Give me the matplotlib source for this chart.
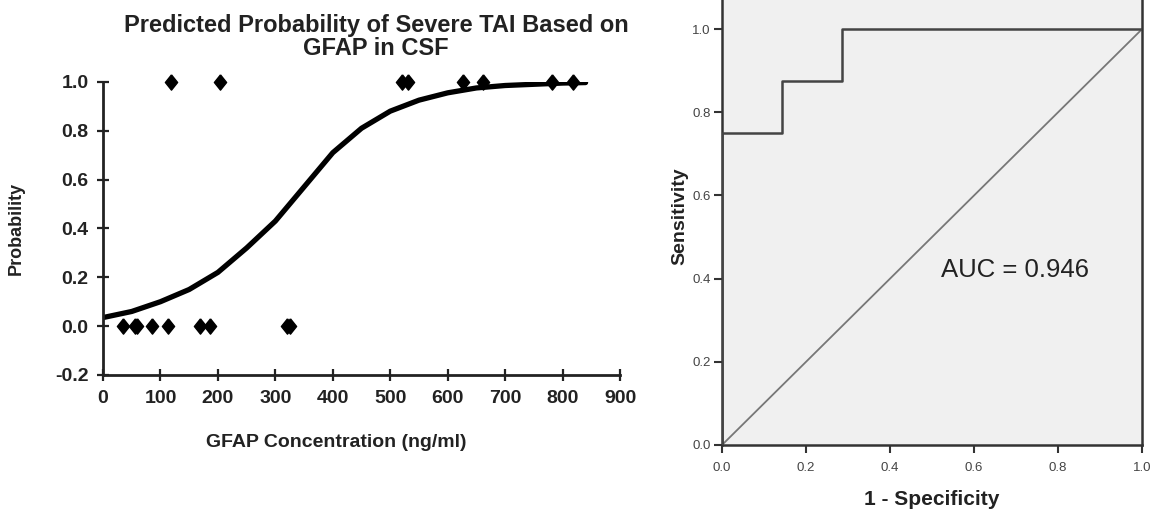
import numpy as np
import matplotlib.pyplot as plt

plt.rcParams["font.family"] = ["Liberation Sans", "DejaVu Sans"]

# ---------------------- data ---------------------- #

# observed cases (GFAP ng/ml), severe TAI = 1, not severe = 0
gfap_pos = [118, 204, 520, 531, 627, 662, 782, 818]
gfap_neg = [34, 55, 60, 85, 113, 169, 186, 320, 326]

# fitted probability curve
curve_x = [0, 50, 100, 150, 200, 250, 300, 350, 400, 450, 500, 550, 600, 650, 700, 750, 800, 840]
curve_p = [0.035, 0.06, 0.10, 0.15, 0.22, 0.32, 0.43, 0.57, 0.71, 0.81, 0.88, 0.925, 0.955, 0.975, 0.985, 0.99, 0.995, 0.997]

# ROC curve
roc_fpr = [0.0, 0.0, 1 / 7, 1 / 7, 2 / 7, 2 / 7, 1.0]
roc_tpr = [0.0, 0.75, 0.75, 0.875, 0.875, 1.0, 1.0]
auc_text = "AUC = 0.946"

x_ticks = [0, 100, 200, 300, 400, 500, 600, 700, 800, 900]
y_ticks = [-0.2, 0.0, 0.2, 0.4, 0.6, 0.8, 1.0]
roc_ticks = [0.0, 0.2, 0.4, 0.6, 0.8, 1.0]

# ---------------------- figure ---------------------- #

fig = plt.figure(figsize=(11.51, 5.17), dpi=100)

# left: logistic fit
ax = fig.add_axes([0.0895, 0.2747, 0.4492, 0.567])
diamond = [(0, 1), (0.8, 0), (0, -1), (-0.8, 0), (0, 1)]
ax.plot(curve_x, curve_p, color="black", lw=3.8, solid_capstyle="round",
        solid_joinstyle="round", zorder=2)
ax.plot(gfap_pos, [1.0] * len(gfap_pos), linestyle="", marker=diamond, ms=11,
        color="black", clip_on=False, zorder=3)
ax.plot(gfap_neg, [0.0] * len(gfap_neg), linestyle="", marker=diamond, ms=11,
        color="black", clip_on=False, zorder=3)

ax.set_xlim(0, 900)
ax.set_ylim(-0.2, 1.0)
ax.set_xticks(x_ticks)
ax.set_yticks(y_ticks)
ax.set_yticklabels([f"{v:.1f}" for v in y_ticks])
for side in ["top", "right"]:
    ax.spines[side].set_visible(False)
for side in ["left", "bottom"]:
    ax.spines[side].set_linewidth(2)
    ax.spines[side].set_color("#222222")
ax.tick_params(direction="inout", length=9, width=1.6, color="#222222",
               labelsize=14, pad=6)
for lbl in ax.get_xticklabels() + ax.get_yticklabels():
    lbl.set_fontweight("bold")
    lbl.set_color("#222222")
fig.text(376 / 1151, 1 - 37 / 517,
         "Predicted Probability of Severe TAI Based on\nGFAP in CSF",
         fontsize=17, fontweight="bold", color="#222222", ha="center", va="center",
         linespacing=1.05)
ax.set_xlabel("GFAP Concentration (ng/ml)", fontsize=14, fontweight="bold",
              color="#222222")
ax.xaxis.set_label_coords((336 - 103) / 517, -(434 - 375) / 293.3, transform=ax.transAxes)
ax.set_ylabel("Probability", fontsize=13, fontweight="bold", color="#222222", labelpad=22)

# right: ROC curve
ax2 = fig.add_axes([0.6273, 0.1393, 0.365, 0.885])
ax2.set_facecolor("#f0f0f0")
ax2.plot([0, 1], [0, 1], color="#777777", lw=1.3, zorder=2)
ax2.plot(roc_fpr, roc_tpr, color="#444444", lw=1.8, zorder=3)
ax2.set_xlim(0, 1)
ax2.set_ylim(0, 1.1)
ax2.set_xticks(roc_ticks)
ax2.set_yticks(roc_ticks)
ax2.set_xticklabels([f"{v:.1f}" for v in roc_ticks])
ax2.set_yticklabels([f"{v:.1f}" for v in roc_ticks])
for side in ["left", "bottom", "right", "top"]:
    ax2.spines[side].set_linewidth(1.8)
    ax2.spines[side].set_color("#333333")
ax2.tick_params(direction="out", length=6, width=1.5, color="#333333",
                labelsize=9.5, labelcolor="#444444", pad=2)
ax2.tick_params(axis="x", pad=6)
ax2.text(0.698, 0.42, auc_text, fontsize=18.5, color="#222222", ha="center", va="center")
ax2.set_xlabel("1 - Specificity", fontsize=15, fontweight="bold", color="#222222", labelpad=12)
ax2.set_ylabel("Sensitivity", fontsize=14, fontweight="bold", color="#222222", labelpad=3)

fig.savefig("out.png", dpi=100)
